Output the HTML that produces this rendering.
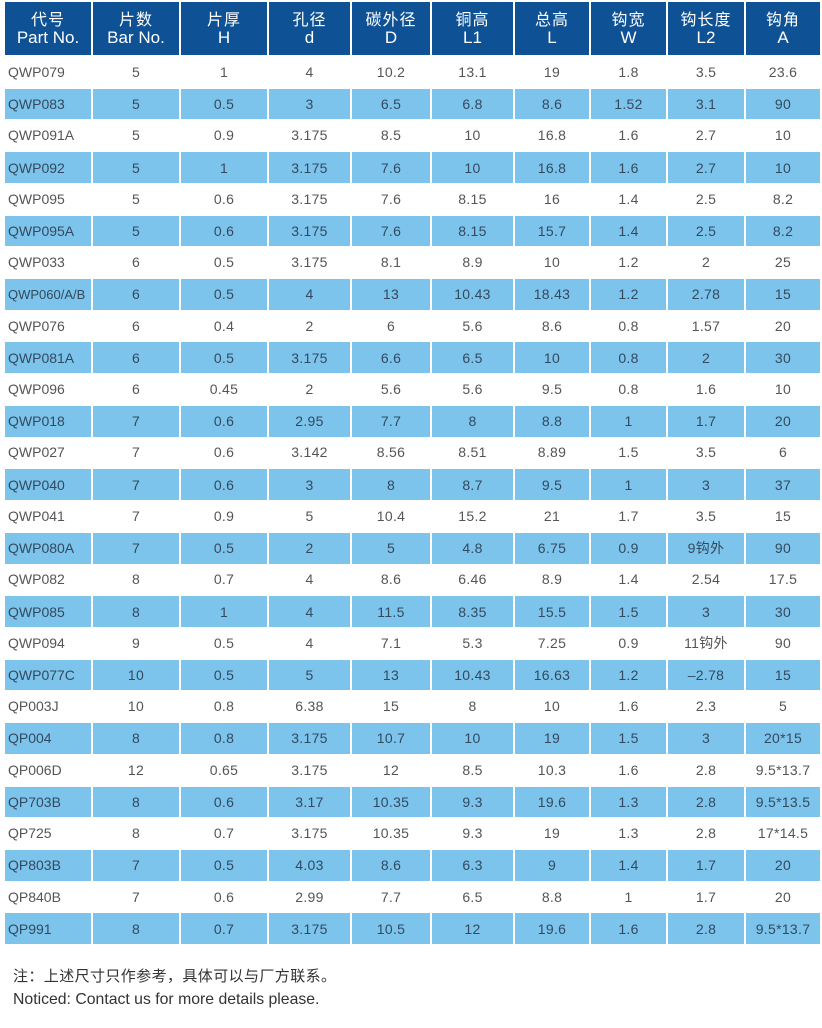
<!DOCTYPE html>
<html>
<head>
<meta charset="utf-8">
<style>
html,body{margin:0;padding:0;background:#fff;}
body{width:822px;height:1028px;position:relative;overflow:hidden;font-family:"Liberation Sans","Noto Sans CJK SC",sans-serif;}
.t{position:absolute;left:5px;top:56px;width:815px;}
.h{position:absolute;left:5px;top:2px;width:815px;height:53px;display:flex;}
.h span{box-sizing:border-box;height:53px;background:#0e5194;color:#fff;border-left:1px solid #fff;border-right:1px solid #fff;display:flex;flex-direction:column;justify-content:center;align-items:center;font-size:17px;line-height:17px;}
.h span b{font-weight:normal;font-size:16px;letter-spacing:1px;}
.r{height:31.73px;display:flex;}
.r span{box-sizing:border-box;display:flex;align-items:center;justify-content:center;font-size:14px;color:#555;border-left:1px solid #fff;border-right:1px solid #fff;letter-spacing:0.3px;white-space:nowrap;overflow:hidden;}
.r.b span{background:#7cc4ec;color:#34495e;margin-top:1px;height:30.73px;}
.r span:nth-child(1),.h span:nth-child(1){width:87px;border-left:0;}
.r span:nth-child(1){justify-content:flex-start;padding-left:3px;letter-spacing:0;}
.r span.sm{font-size:13px;}
.r span:nth-child(2),.h span:nth-child(2){width:88px;}
.r span:nth-child(3),.h span:nth-child(3){width:88px;}
.r span:nth-child(4),.h span:nth-child(4){width:83px;}
.r span:nth-child(5),.h span:nth-child(5){width:80px;}
.r span:nth-child(6),.h span:nth-child(6){width:83px;}
.r span:nth-child(7),.h span:nth-child(7){width:76px;}
.r span:nth-child(8),.h span:nth-child(8){width:77px;}
.r span:nth-child(9),.h span:nth-child(9){width:78px;}
.r span:nth-child(10),.h span:nth-child(10){width:75px;border-right:0;}
.n1{position:absolute;left:13px;top:967px;font-size:15px;color:#333;line-height:20px;letter-spacing:0.4px;}
.n2{position:absolute;left:13px;top:990px;font-size:15.8px;color:#333;line-height:20px;}
</style>
</head>
<body>
<div class="h">
<span><b>代号</b>Part No.</span>
<span><b>片数</b>Bar No.</span>
<span><b>片厚</b>H</span>
<span><b>孔径</b>d</span>
<span><b>碳外径</b>D</span>
<span><b>铜高</b>L1</span>
<span><b>总高</b>L</span>
<span><b>钩宽</b>W</span>
<span><b>钩长度</b>L2</span>
<span><b>钩角</b>A</span>
</div>
<div class="t">
<div class="r"><span>QWP079</span><span>5</span><span>1</span><span>4</span><span>10.2</span><span>13.1</span><span>19</span><span>1.8</span><span>3.5</span><span>23.6</span></div>
<div class="r b"><span>QWP083</span><span>5</span><span>0.5</span><span>3</span><span>6.5</span><span>6.8</span><span>8.6</span><span>1.52</span><span>3.1</span><span>90</span></div>
<div class="r"><span>QWP091A</span><span>5</span><span>0.9</span><span>3.175</span><span>8.5</span><span>10</span><span>16.8</span><span>1.6</span><span>2.7</span><span>10</span></div>
<div class="r b"><span>QWP092</span><span>5</span><span>1</span><span>3.175</span><span>7.6</span><span>10</span><span>16.8</span><span>1.6</span><span>2.7</span><span>10</span></div>
<div class="r"><span>QWP095</span><span>5</span><span>0.6</span><span>3.175</span><span>7.6</span><span>8.15</span><span>16</span><span>1.4</span><span>2.5</span><span>8.2</span></div>
<div class="r b"><span>QWP095A</span><span>5</span><span>0.6</span><span>3.175</span><span>7.6</span><span>8.15</span><span>15.7</span><span>1.4</span><span>2.5</span><span>8.2</span></div>
<div class="r"><span>QWP033</span><span>6</span><span>0.5</span><span>3.175</span><span>8.1</span><span>8.9</span><span>10</span><span>1.2</span><span>2</span><span>25</span></div>
<div class="r b"><span class="sm">QWP060/A/B</span><span>6</span><span>0.5</span><span>4</span><span>13</span><span>10.43</span><span>18.43</span><span>1.2</span><span>2.78</span><span>15</span></div>
<div class="r"><span>QWP076</span><span>6</span><span>0.4</span><span>2</span><span>6</span><span>5.6</span><span>8.6</span><span>0.8</span><span>1.57</span><span>20</span></div>
<div class="r b"><span>QWP081A</span><span>6</span><span>0.5</span><span>3.175</span><span>6.6</span><span>6.5</span><span>10</span><span>0.8</span><span>2</span><span>30</span></div>
<div class="r"><span>QWP096</span><span>6</span><span>0.45</span><span>2</span><span>5.6</span><span>5.6</span><span>9.5</span><span>0.8</span><span>1.6</span><span>10</span></div>
<div class="r b"><span>QWP018</span><span>7</span><span>0.6</span><span>2.95</span><span>7.7</span><span>8</span><span>8.8</span><span>1</span><span>1.7</span><span>20</span></div>
<div class="r"><span>QWP027</span><span>7</span><span>0.6</span><span>3.142</span><span>8.56</span><span>8.51</span><span>8.89</span><span>1.5</span><span>3.5</span><span>6</span></div>
<div class="r b"><span>QWP040</span><span>7</span><span>0.6</span><span>3</span><span>8</span><span>8.7</span><span>9.5</span><span>1</span><span>3</span><span>37</span></div>
<div class="r"><span>QWP041</span><span>7</span><span>0.9</span><span>5</span><span>10.4</span><span>15.2</span><span>21</span><span>1.7</span><span>3.5</span><span>15</span></div>
<div class="r b"><span>QWP080A</span><span>7</span><span>0.5</span><span>2</span><span>5</span><span>4.8</span><span>6.75</span><span>0.9</span><span>9钩外</span><span>90</span></div>
<div class="r"><span>QWP082</span><span>8</span><span>0.7</span><span>4</span><span>8.6</span><span>6.46</span><span>8.9</span><span>1.4</span><span>2.54</span><span>17.5</span></div>
<div class="r b"><span>QWP085</span><span>8</span><span>1</span><span>4</span><span>11.5</span><span>8.35</span><span>15.5</span><span>1.5</span><span>3</span><span>30</span></div>
<div class="r"><span>QWP094</span><span>9</span><span>0.5</span><span>4</span><span>7.1</span><span>5.3</span><span>7.25</span><span>0.9</span><span>11钩外</span><span>90</span></div>
<div class="r b"><span>QWP077C</span><span>10</span><span>0.5</span><span>5</span><span>13</span><span>10.43</span><span>16.63</span><span>1.2</span><span>–2.78</span><span>15</span></div>
<div class="r"><span>QP003J</span><span>10</span><span>0.8</span><span>6.38</span><span>15</span><span>8</span><span>10</span><span>1.6</span><span>2.3</span><span>5</span></div>
<div class="r b"><span>QP004</span><span>8</span><span>0.8</span><span>3.175</span><span>10.7</span><span>10</span><span>19</span><span>1.5</span><span>3</span><span>20*15</span></div>
<div class="r"><span>QP006D</span><span>12</span><span>0.65</span><span>3.175</span><span>12</span><span>8.5</span><span>10.3</span><span>1.6</span><span>2.8</span><span>9.5*13.7</span></div>
<div class="r b"><span>QP703B</span><span>8</span><span>0.6</span><span>3.17</span><span>10.35</span><span>9.3</span><span>19.6</span><span>1.3</span><span>2.8</span><span>9.5*13.5</span></div>
<div class="r"><span>QP725</span><span>8</span><span>0.7</span><span>3.175</span><span>10.35</span><span>9.3</span><span>19</span><span>1.3</span><span>2.8</span><span>17*14.5</span></div>
<div class="r b"><span>QP803B</span><span>7</span><span>0.5</span><span>4.03</span><span>8.6</span><span>6.3</span><span>9</span><span>1.4</span><span>1.7</span><span>20</span></div>
<div class="r"><span>QP840B</span><span>7</span><span>0.6</span><span>2.99</span><span>7.7</span><span>6.5</span><span>8.8</span><span>1</span><span>1.7</span><span>20</span></div>
<div class="r b"><span>QP991</span><span>8</span><span>0.7</span><span>3.175</span><span>10.5</span><span>12</span><span>19.6</span><span>1.6</span><span>2.8</span><span>9.5*13.7</span></div>
</div>
<div class="n1">注：上述尺寸只作参考，具体可以与厂方联系。</div>
<div class="n2">Noticed: Contact us for more details please.</div>
</body>
</html>
